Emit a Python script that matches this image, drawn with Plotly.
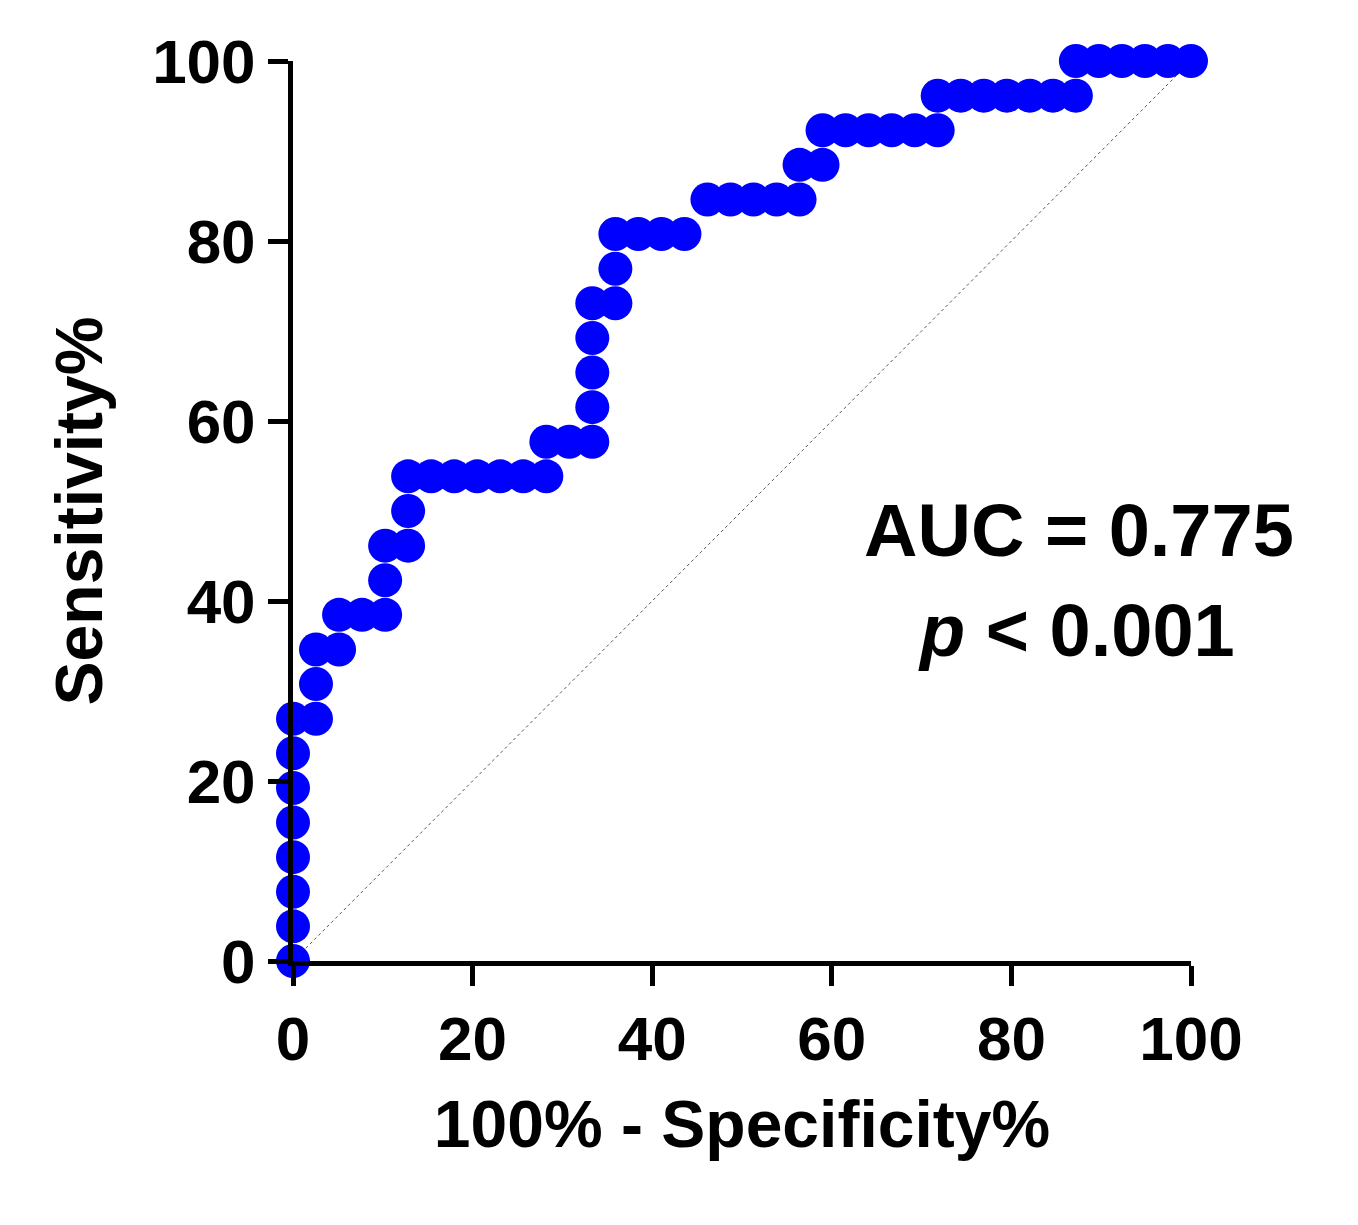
import plotly.graph_objects as go

# ROC points (100% - specificity, sensitivity)
fpr = [0, 0, 0, 0, 0, 0, 0, 0,
       2.56, 2.56, 2.56, 5.13, 5.13, 7.69, 10.26, 10.26, 10.26,
       12.82, 12.82, 12.82, 15.38, 17.95, 20.51, 23.08, 25.64, 28.21, 28.21,
       30.77, 33.33, 33.33, 33.33, 33.33, 33.33, 35.9, 35.9, 35.9,
       38.46, 41.03, 43.59, 46.15, 48.72, 51.28, 53.85, 56.41, 56.41,
       58.97, 58.97, 61.54, 64.1, 66.67, 69.23, 71.79, 71.79,
       74.36, 76.92, 79.49, 82.05, 84.62, 87.18, 87.18,
       89.74, 92.31, 94.87, 97.44, 100]
tpr = [0, 3.85, 7.69, 11.54, 15.38, 19.23, 23.08, 26.92,
       26.92, 30.77, 34.62, 34.62, 38.46, 38.46, 38.46, 42.31, 46.15,
       46.15, 50.0, 53.85, 53.85, 53.85, 53.85, 53.85, 53.85, 53.85, 57.69,
       57.69, 57.69, 61.54, 65.38, 69.23, 73.08, 73.08, 76.92, 80.77,
       80.77, 80.77, 80.77, 84.62, 84.62, 84.62, 84.62, 84.62, 88.46,
       88.46, 92.31, 92.31, 92.31, 92.31, 92.31, 92.31, 96.15,
       96.15, 96.15, 96.15, 96.15, 96.15, 96.15, 100,
       100, 100, 100, 100, 100]
ticks = [0, 20, 40, 60, 80, 100]

font = "Liberation Sans"

fig = go.Figure()
fig.add_trace(go.Scatter(x=[0, 100], y=[0, 100], mode="lines",
                         line=dict(color="#555", width=1, dash="dot"),
                         hoverinfo="skip"))
fig.add_trace(go.Scatter(x=fpr, y=tpr, mode="markers", cliponaxis=False,
                         marker=dict(size=34, color="#0000FF")))

axis_common = dict(range=[0, 100], tickvals=ticks, showline=True, linecolor="black",
                   linewidth=5, ticks="outside", ticklen=20, tickwidth=5,
                   tickcolor="black", showgrid=False, zeroline=False,
                   tickfont=dict(family=font, size=62, color="black", weight="bold"))
fig.update_xaxes(**axis_common,
                 title=dict(text="<b>100% - Specificity%</b>", standoff=30,
                            font=dict(family=font, size=66, color="black")))
fig.update_yaxes(**axis_common,
                 title=dict(text="<b>Sensitivity%</b>", standoff=30,
                            font=dict(family=font, size=66, color="black")))

fig.add_annotation(x=87.5, y=47.8, text="<b>AUC = 0.775</b>", showarrow=False,
                   font=dict(family=font, size=74, color="black"))
fig.add_annotation(x=87.3, y=36.7, text="<b><i>p</i> < 0.001</b>", showarrow=False,
                   font=dict(family=font, size=74, color="black"))

fig.update_layout(width=1358, height=1225, showlegend=False,
                  plot_bgcolor="white", paper_bgcolor="white",
                  margin=dict(l=285, r=175, t=53, b=272))
fig.write_html("out.html")
